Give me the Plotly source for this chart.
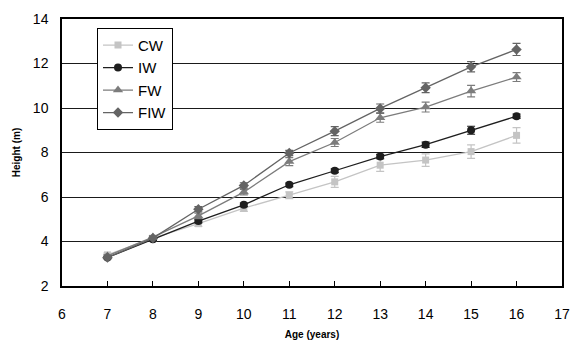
import plotly.graph_objects as go

# Tree height by age for four treatments
age = [7, 8, 9, 10, 11, 12, 13, 14, 15, 16]

cw = [3.40, 4.15, 4.80, 5.50, 6.08, 6.68, 7.43, 7.66, 8.04, 8.77]
cw_err = [0.08, 0.08, 0.12, 0.15, 0.15, 0.25, 0.28, 0.28, 0.30, 0.35]

iw = [3.28, 4.10, 4.92, 5.65, 6.55, 7.18, 7.82, 8.35, 9.00, 9.63]
iw_err = [0.05, 0.05, 0.08, 0.08, 0.08, 0.08, 0.10, 0.12, 0.18, 0.10]

fw = [3.35, 4.20, 5.15, 6.22, 7.59, 8.45, 9.56, 10.04, 10.76, 11.39]
fw_err = [0.06, 0.06, 0.12, 0.12, 0.18, 0.18, 0.20, 0.22, 0.26, 0.20]

fiw = [3.28, 4.15, 5.45, 6.52, 7.98, 8.96, 9.98, 10.91, 11.85, 12.63]
fiw_err = [0.05, 0.06, 0.12, 0.12, 0.12, 0.20, 0.20, 0.22, 0.23, 0.27]

series = [
    ("CW", cw, cw_err, "#c4c4c4", "square", 7),
    ("IW", iw, iw_err, "#1e1e1e", "circle", 8),
    ("FW", fw, fw_err, "#7c7c7c", "triangle-up", 9),
    ("FIW", fiw, fiw_err, "#646464", "diamond", 8),
]

fig = go.Figure()
for name, vals, errs, color, symbol, size in series:
    fig.add_trace(go.Scatter(
        x=age, y=vals, name=name, mode="lines+markers",
        line=dict(color=color, width=1.3),
        marker=dict(symbol=symbol, size=size, color=color),
        error_y=dict(type="data", array=errs, visible=True,
                     color=color, thickness=1.2, width=4),
    ))

font = "Liberation Sans, Arial, sans-serif"
fig.update_layout(
    width=573, height=342,
    margin=dict(l=62, r=11, t=19, b=56),
    paper_bgcolor="white", plot_bgcolor="white",
    font=dict(family=font, size=14, color="black"),
    showlegend=True,
    legend=dict(
        x=0.07, y=0.967, xanchor="left", yanchor="top",
        bgcolor="white", bordercolor="black", borderwidth=1,
        font=dict(size=15, family=font),
        itemwidth=30, tracegroupgap=0,
    ),
    xaxis=dict(
        range=[6, 17], dtick=1, tick0=6, automargin=False,
        showgrid=False, zeroline=False,
        showline=True, linecolor="black", linewidth=1.5, mirror=True,
        ticks="inside", ticklen=5, tickcolor="black",
        tickfont=dict(size=14), ticklabelstandoff=14,
        title=dict(text="<b>Age (years)</b>", font=dict(size=10), standoff=10),
    ),
    yaxis=dict(
        range=[2, 14], dtick=2, tick0=2, automargin=False,
        showgrid=True, gridcolor="#1a1a1a", gridwidth=1,
        zeroline=False,
        showline=True, linecolor="black", linewidth=1.5, mirror=True,
        ticks="", tickfont=dict(size=14), ticklabelstandoff=9,
        title=dict(text="<b>Height (m)</b>", font=dict(size=10), standoff=10),
    ),
)

fig.write_html("out.html")
